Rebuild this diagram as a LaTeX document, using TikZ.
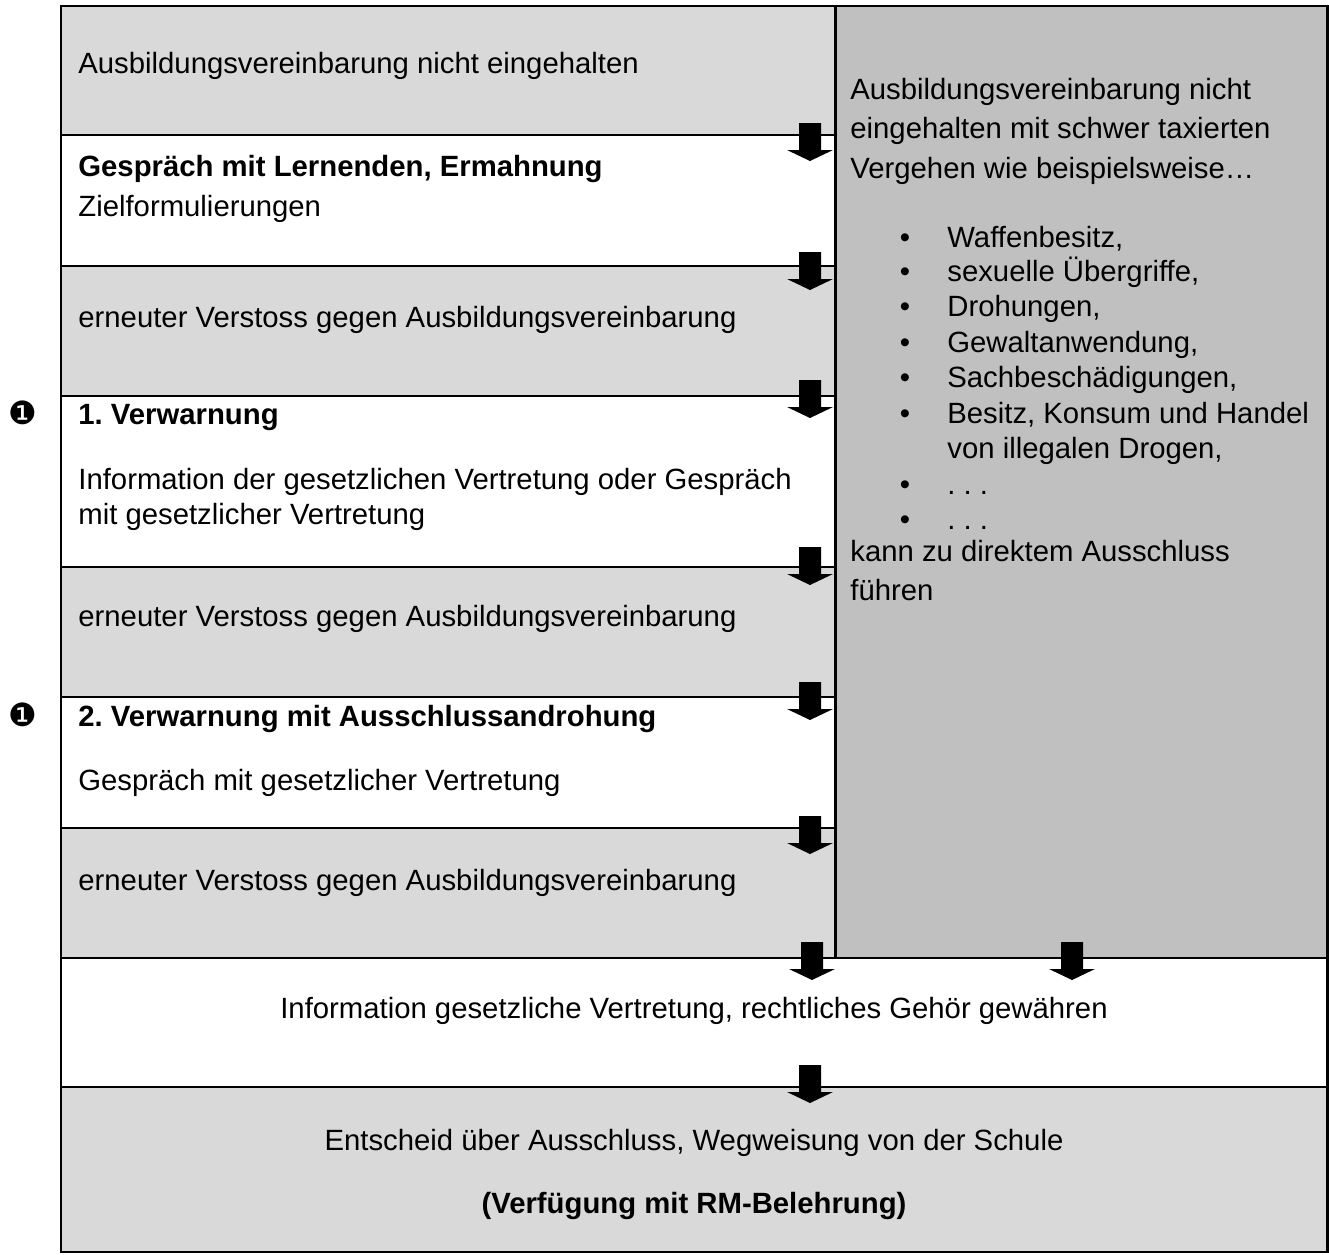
\documentclass[tikz,border=0pt]{standalone}
\usepackage{fontspec}
\setmainfont{Liberation Sans}
\newfontfamily\dejavu{DejaVu Sans}
\definecolor{lightg}{HTML}{D9D9D9}
\definecolor{darkg}{HTML}{C0C0C0}
\newcommand{\mainsize}{\fontsize{14.65}{17.8}\selectfont\frenchspacing}
\tikzset{
  txt/.style={anchor=base west, inner sep=0pt, font=\mainsize},
  ctxt/.style={anchor=base, inner sep=0pt, font=\mainsize},
  bullet/.style={anchor=base, inner sep=0pt, font=\mainsize},
  gridline/.style={line width=1.3pt},
  marker/.style={inner sep=0pt, font=\dejavu\fontsize{16}{18}\selectfont},
  blockarrow/.pic={\fill[black] (-11,-38) -- (11,-38) -- (11,-11) -- (23,-11) -- (0,0) -- (-23,-11) -- (-11,-11) -- cycle;}
}
\begin{document}
\begin{tikzpicture}[x=0.5pt,y=-0.5pt]
\useasboundingbox (0,0) rectangle (1329,1254);
% fills
\fill[lightg] (61,6) rectangle (835.5,135);
\fill[lightg] (61,266) rectangle (835.5,396);
\fill[lightg] (61,567) rectangle (835.5,697);
\fill[lightg] (61,828) rectangle (835.5,958);
\fill[darkg] (835.5,6) rectangle (1327.5,958);
\fill[lightg] (61,1087) rectangle (1327.5,1252);
% grid
\draw[gridline] (61,6) rectangle (1327.5,1252);
\draw[gridline] (835.5,6) -- (835.5,958);
\foreach \yy in {135,266,396,567,697,828}{
  \draw[gridline] (61,\yy) -- (835.5,\yy);
}
\draw[gridline] (61,958) -- (1327.5,958);
\draw[gridline] (61,1087) -- (1327.5,1087);
% arrows
\pic (a1) at (810,161) {blockarrow};
\pic (a2) at (810,290) {blockarrow};
\pic (a3) at (810,418) {blockarrow};
\pic (a4) at (810,585) {blockarrow};
\pic (a5) at (810,720) {blockarrow};
\pic (a6) at (810,854) {blockarrow};
\pic (a7) at (812,980) {blockarrow};
\pic (a8) at (1072,980) {blockarrow};
\pic (a9) at (810,1103) {blockarrow};
% left column texts
\node[txt] (t1) at (78,73) {Ausbildungsvereinbarung nicht eingehalten};
\node[txt] (t2) at (78,176) {\bfseries Gespräch mit Lernenden, Ermahnung};
\node[txt] (t2b) at (78,216) {Zielformulierungen};
\node[txt] (t3) at (78,327) {erneuter Verstoss gegen Ausbildungsvereinbarung};
\node[txt] (t4) at (78,424) {\bfseries 1. Verwarnung};
\node[txt] (t4b) at (78,489) {Information der gesetzlichen Vertretung oder Gespräch};
\node[txt] (t4c) at (78,524) {mit gesetzlicher Vertretung};
\node[txt] (t5) at (78,626) {erneuter Verstoss gegen Ausbildungsvereinbarung};
\node[txt] (t6) at (78,726) {\bfseries 2. Verwarnung mit Ausschlussandrohung};
\node[txt] (t6b) at (78,790) {Gespräch mit gesetzlicher Vertretung};
\node[txt] (t7) at (78,890) {erneuter Verstoss gegen Ausbildungsvereinbarung};
% markers
\node[marker] (m1) at (23,413) {❶};
\node[marker] (m2) at (23,715) {❶};
% bottom texts
\node[ctxt] (b1) at (694,1018) {Information gesetzliche Vertretung, rechtliches Gehör gewähren};
\node[ctxt] (b2) at (694,1150) {Entscheid über Ausschluss, Wegweisung von der Schule};
\node[ctxt] (b3) at (694,1213) {\bfseries (Verfügung mit RM-Belehrung)};
% right column
\node[txt] (r1) at (850,99) {Ausbildungsvereinbarung nicht};
\node[txt] (r2) at (850,138) {eingehalten mit schwer taxierten};
\node[txt] (r3) at (850,178) {Vergehen wie beispielsweise…};
\foreach \yy/\tt [count=\i] in {247/{Waffenbesitz,},281/{sexuelle Übergriffe,},316/{Drohungen,},352/{Gewaltanwendung,},387/{Sachbeschädigungen,},423/{Besitz, Konsum und Handel},494/{. . .},529/{. . .}}{
  \node[bullet] (bl\i) at (905,\yy) {•};
  \node[txt] (li\i) at (947,\yy) {\tt};
}
\node[txt] (li6b) at (947,458) {von illegalen Drogen,};
\node[txt] (r4) at (850,561) {kann zu direktem Ausschluss};
\node[txt] (r5) at (850,600) {führen};
\end{tikzpicture}
\end{document}
